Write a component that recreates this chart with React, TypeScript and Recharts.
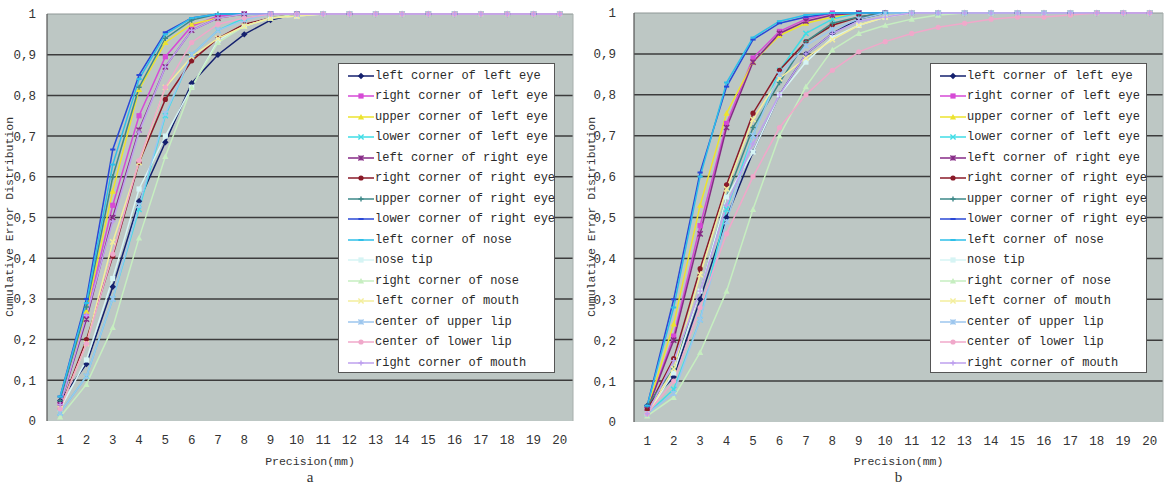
import React from 'react';
import { LineChart, Line, XAxis, YAxis, CartesianGrid, Legend, ReferenceLine } from 'recharts';

// precision thresholds in mm
const precision = [1, 2, 3, 4, 5, 6, 7, 8, 9, 10, 11, 12, 13, 14, 15, 16, 17, 18, 19, 20];
const xBoundaries = [1.5, 2.5, 3.5, 4.5, 5.5, 6.5, 7.5, 8.5, 9.5, 10.5, 11.5, 12.5, 13.5, 14.5, 15.5, 16.5, 17.5, 18.5, 19.5];
const yTicks = [0, 0.1, 0.2, 0.3, 0.4, 0.5, 0.6, 0.7, 0.8, 0.9, 1];
const gridValues = [0.1, 0.2, 0.3, 0.4, 0.5, 0.6, 0.7, 0.8, 0.9];

const landmarks = [
  'left corner of left eye',
  'right corner of left eye',
  'upper corner of left eye',
  'lower corner of left eye',
  'left corner of right eye',
  'right corner of right eye',
  'upper corner of right eye',
  'lower corner of right eye',
  'left corner of nose',
  'nose tip',
  'right corner of nose',
  'left corner of mouth',
  'center of upper lip',
  'center of lower lip',
  'right corner of mouth',
];

// excel-ish default series palette
const colors = [
  '#14206e', '#d64ad6', '#ece32e', '#3fdde6', '#862a86',
  '#8a1a28', '#3d8888', '#2a48d6', '#2ebfe8', '#d6f4f4',
  '#c6eec0', '#f3ee9c', '#9cc6ee', '#f0a8ca', '#bea0ee',
];
const markers = [
  'diamond', 'square', 'triangle', 'x', 'star', 'circle', 'plus', 'dash',
  'dash', 'square', 'triangle', 'x', 'star', 'circle', 'plus',
];

// panel a
const aLeftCornerLeftEye = [0.05, 0.14, 0.33, 0.54, 0.685, 0.83, 0.90, 0.95, 0.985, 1, 1, 1, 1, 1, 1, 1, 1, 1, 1, 1];
const aRightCornerLeftEye = [0.04, 0.26, 0.53, 0.75, 0.895, 0.97, 0.995, 1, 1, 1, 1, 1, 1, 1, 1, 1, 1, 1, 1, 1];
const aUpperCornerLeftEye = [0.04, 0.27, 0.565, 0.815, 0.93, 0.975, 0.99, 1, 1, 1, 1, 1, 1, 1, 1, 1, 1, 1, 1, 1];
const aLowerCornerLeftEye = [0.02, 0.11, 0.30, 0.52, 0.75, 0.90, 0.96, 0.99, 1, 1, 1, 1, 1, 1, 1, 1, 1, 1, 1, 1];
const aLeftCornerRightEye = [0.04, 0.25, 0.50, 0.715, 0.87, 0.96, 0.99, 1, 1, 1, 1, 1, 1, 1, 1, 1, 1, 1, 1, 1];
const aRightCornerRightEye = [0.03, 0.20, 0.405, 0.635, 0.79, 0.885, 0.94, 0.975, 0.99, 1, 1, 1, 1, 1, 1, 1, 1, 1, 1, 1];
const aUpperCornerRightEye = [0.05, 0.28, 0.60, 0.82, 0.94, 0.985, 1, 1, 1, 1, 1, 1, 1, 1, 1, 1, 1, 1, 1, 1];
const aLowerCornerRightEye = [0.06, 0.30, 0.667, 0.85, 0.955, 0.99, 1, 1, 1, 1, 1, 1, 1, 1, 1, 1, 1, 1, 1, 1];
const aLeftCornerNose = [0.06, 0.29, 0.63, 0.84, 0.95, 0.99, 1, 1, 1, 1, 1, 1, 1, 1, 1, 1, 1, 1, 1, 1];
const aNoseTip = [0.03, 0.15, 0.35, 0.57, 0.70, 0.82, 0.935, 0.97, 0.99, 0.995, 1, 1, 1, 1, 1, 1, 1, 1, 1, 1];
const aRightCornerNose = [0.01, 0.09, 0.23, 0.45, 0.65, 0.82, 0.93, 0.97, 0.99, 1, 1, 1, 1, 1, 1, 1, 1, 1, 1, 1];
const aLeftCornerMouth = [0.03, 0.19, 0.44, 0.635, 0.82, 0.895, 0.94, 0.97, 0.99, 0.995, 1, 1, 1, 1, 1, 1, 1, 1, 1, 1];
const aCenterUpperLip = [0.02, 0.11, 0.30, 0.53, 0.755, 0.90, 0.96, 0.985, 1, 1, 1, 1, 1, 1, 1, 1, 1, 1, 1, 1];
const aCenterLowerLip = [0.03, 0.19, 0.41, 0.64, 0.82, 0.93, 0.975, 0.99, 1, 1, 1, 1, 1, 1, 1, 1, 1, 1, 1, 1];
const aRightCornerMouth = [0.04, 0.26, 0.49, 0.71, 0.87, 0.96, 0.99, 1, 1, 1, 1, 1, 1, 1, 1, 1, 1, 1, 1, 1];

// panel b
const bLeftCornerLeftEye = [0.04, 0.11, 0.30, 0.50, 0.66, 0.80, 0.90, 0.95, 0.985, 1, 1, 1, 1, 1, 1, 1, 1, 1, 1, 1];
const bRightCornerLeftEye = [0.03, 0.21, 0.48, 0.73, 0.89, 0.955, 0.985, 1, 1, 1, 1, 1, 1, 1, 1, 1, 1, 1, 1, 1];
const bUpperCornerLeftEye = [0.03, 0.24, 0.53, 0.755, 0.88, 0.945, 0.975, 0.99, 1, 1, 1, 1, 1, 1, 1, 1, 1, 1, 1, 1];
const bLowerCornerLeftEye = [0.02, 0.08, 0.25, 0.52, 0.70, 0.86, 0.95, 0.985, 1, 1, 1, 1, 1, 1, 1, 1, 1, 1, 1, 1];
const bLeftCornerRightEye = [0.03, 0.20, 0.46, 0.72, 0.88, 0.95, 0.98, 0.995, 1, 1, 1, 1, 1, 1, 1, 1, 1, 1, 1, 1];
const bRightCornerRightEye = [0.03, 0.155, 0.375, 0.58, 0.755, 0.86, 0.93, 0.97, 0.99, 1, 1, 1, 1, 1, 1, 1, 1, 1, 1, 1];
const bUpperCornerRightEye = [0.04, 0.13, 0.32, 0.55, 0.72, 0.83, 0.93, 0.975, 0.99, 1, 1, 1, 1, 1, 1, 1, 1, 1, 1, 1];
const bLowerCornerRightEye = [0.04, 0.30, 0.61, 0.82, 0.935, 0.975, 0.99, 1, 1, 1, 1, 1, 1, 1, 1, 1, 1, 1, 1, 1];
const bLeftCornerNose = [0.04, 0.28, 0.60, 0.83, 0.94, 0.98, 0.995, 1, 1, 1, 1, 1, 1, 1, 1, 1, 1, 1, 1, 1];
const bNoseTip = [0.02, 0.12, 0.32, 0.55, 0.66, 0.80, 0.88, 0.94, 0.97, 0.99, 1, 1, 1, 1, 1, 1, 1, 1, 1, 1];
const bRightCornerNose = [0.015, 0.06, 0.17, 0.32, 0.52, 0.70, 0.82, 0.91, 0.95, 0.97, 0.985, 0.995, 1, 1, 1, 1, 1, 1, 1, 1];
const bLeftCornerMouth = [0.02, 0.13, 0.36, 0.57, 0.74, 0.84, 0.89, 0.935, 0.97, 0.99, 1, 1, 1, 1, 1, 1, 1, 1, 1, 1];
const bCenterUpperLip = [0.02, 0.07, 0.25, 0.49, 0.70, 0.85, 0.92, 0.96, 0.985, 1, 1, 1, 1, 1, 1, 1, 1, 1, 1, 1];
const bCenterLowerLip = [0.02, 0.10, 0.28, 0.46, 0.60, 0.72, 0.80, 0.86, 0.905, 0.93, 0.95, 0.965, 0.975, 0.985, 0.99, 0.99, 0.995, 1, 1, 1];
const bRightCornerMouth = [0.02, 0.15, 0.32, 0.53, 0.68, 0.80, 0.90, 0.95, 0.98, 0.99, 1, 1, 1, 1, 1, 1, 1, 1, 1, 1];

const panelA = [
  aLeftCornerLeftEye, aRightCornerLeftEye, aUpperCornerLeftEye, aLowerCornerLeftEye,
  aLeftCornerRightEye, aRightCornerRightEye, aUpperCornerRightEye, aLowerCornerRightEye,
  aLeftCornerNose, aNoseTip, aRightCornerNose, aLeftCornerMouth,
  aCenterUpperLip, aCenterLowerLip, aRightCornerMouth,
];
const panelB = [
  bLeftCornerLeftEye, bRightCornerLeftEye, bUpperCornerLeftEye, bLowerCornerLeftEye,
  bLeftCornerRightEye, bRightCornerRightEye, bUpperCornerRightEye, bLowerCornerRightEye,
  bLeftCornerNose, bNoseTip, bRightCornerNose, bLeftCornerMouth,
  bCenterUpperLip, bCenterLowerLip, bRightCornerMouth,
];

const FONT = '"Liberation Mono", monospace';

const toRows = (series: number[][]) =>
  precision.map((p, i) => {
    const row: Record<string, number> = { p };
    series.forEach((s, k) => { row[`s${k}`] = s[i]; });
    return row;
  });

const fmtY = (v: number) => (v === 0 || v === 1 ? String(v) : v.toFixed(1).replace('.', ','));

function Marker({ shape, cx, cy, color }: { shape: string; cx: number; cy: number; color: string }) {
  const r = 2.6;
  switch (shape) {
    case 'diamond':
      return <path d={`M${cx},${cy - r - 0.6}L${cx + r + 0.6},${cy}L${cx},${cy + r + 0.6}L${cx - r - 0.6},${cy}Z`} fill={color} />;
    case 'square':
      return <rect x={cx - r} y={cy - r} width={r * 2} height={r * 2} fill={color} />;
    case 'triangle':
      return <path d={`M${cx},${cy - r - 0.5}L${cx + r + 0.5},${cy + r}L${cx - r - 0.5},${cy + r}Z`} fill={color} />;
    case 'circle':
      return <circle cx={cx} cy={cy} r={r} fill={color} />;
    case 'x':
      return <path d={`M${cx - r},${cy - r}L${cx + r},${cy + r}M${cx + r},${cy - r}L${cx - r},${cy + r}`} stroke={color} strokeWidth={1.4} />;
    case 'star':
      return <path d={`M${cx - r},${cy - r}L${cx + r},${cy + r}M${cx + r},${cy - r}L${cx - r},${cy + r}M${cx},${cy - r}L${cx},${cy + r}`} stroke={color} strokeWidth={1.4} />;
    case 'plus':
      return <path d={`M${cx - r},${cy}L${cx + r},${cy}M${cx},${cy - r}L${cx},${cy + r}`} stroke={color} strokeWidth={1.4} />;
    default:
      return <path d={`M${cx - r},${cy}L${cx + r},${cy}`} stroke={color} strokeWidth={2} />;
  }
}

// legend rows follow the series order, not the library's sorted payload
function LegendBox() {
  return (
    <div style={{
      width: 217, height: 310, boxSizing: 'border-box', border: '1px solid #555', background: '#fff',
      paddingTop: 1.5, paddingLeft: 9, fontFamily: FONT, fontSize: 12, color: '#2a2a2a',
    }}>
      {landmarks.map((name, k) => (
        <div key={k} style={{ height: 20.5, display: 'flex', alignItems: 'center', whiteSpace: 'nowrap' }}>
          <svg width={26} height={10} style={{ flex: 'none' }}>
            <line x1={0} y1={5} x2={26} y2={5} stroke={colors[k]} strokeWidth={1.5} />
            <Marker shape={markers[k]} cx={13} cy={5} color={colors[k]} />
          </svg>
          <span style={{ marginLeft: 1 }}>{name}</span>
        </div>
      ))}
    </div>
  );
}

type PanelProps = {
  series: number[][];
  left: number;
  width: number;
  plotLeft: number;
  plotRight: number;
  plotTop: number;
  plotBottom: number;
  labelGap: number;
  legendLeft: number;
  titleX: number;
  caption: string;
};

function Panel({ series, left, width, plotLeft, plotRight, plotTop, plotBottom, labelGap, legendLeft, titleX, caption }: PanelProps) {
  const data = toRows(series);
  const yAxisWidth = 40;
  const xAxisHeight = 25;
  const height = 492;
  const centre = (plotLeft + plotRight) / 2 - left;
  return (
    <div style={{ position: 'absolute', left, top: 0, width, height }}>
      <LineChart
        width={width}
        height={height}
        data={data}
        margin={{ top: plotTop, right: left + width - plotRight, left: plotLeft - left - yAxisWidth, bottom: height - plotBottom - xAxisHeight }}
      >
        <CartesianGrid vertical={false} horizontalValues={gridValues} stroke="#3c3c3c" strokeWidth={1.5} fill="#bdc7c4" fillOpacity={1} />
        <XAxis xAxisId="marks" dataKey="p" type="number" domain={[0.5, 20.5]} ticks={xBoundaries} height={0}
          tick={false} tickSize={4} mirror axisLine={{ stroke: '#5a4444', strokeWidth: 1.5 }} tickLine={{ stroke: '#5a4444' }} />
        <XAxis xAxisId="p" dataKey="p" type="number" domain={[0.5, 20.5]} ticks={precision} height={xAxisHeight}
          interval={0} axisLine={false} tickLine={false} tickSize={0} tickMargin={14}
          tick={{ fill: '#333', fontSize: 12.5, fontFamily: FONT }} />
        <YAxis type="number" domain={[0, 1]} ticks={yTicks} width={yAxisWidth} tickFormatter={fmtY}
          axisLine={{ stroke: '#555', strokeWidth: 1.2 }} tickLine={false} tickSize={0} tickMargin={labelGap}
          tick={{ fill: '#333', fontSize: 12.5, fontFamily: FONT }} />
        <ReferenceLine xAxisId="p" y={1} stroke="#8e9795" strokeWidth={1} />
        <ReferenceLine xAxisId="p" x={20.5} stroke="#a6aeac" strokeWidth={1} />
        <Legend layout="vertical" align="center" verticalAlign="middle" content={<LegendBox />}
          wrapperStyle={{ left: legendLeft - left, top: 63, width: 217, height: 310 }} />
        {series.map((_, k) => (
          <Line
            key={k}
            xAxisId="p"
            type="linear"
            dataKey={`s${k}`}
            name={landmarks[k]}
            stroke={colors[k]}
            strokeWidth={1.5}
            isAnimationActive={false}
            dot={(props: any) => (
              <Marker key={`${k}-${props.index}`} shape={markers[k]} cx={props.cx} cy={props.cy} color={colors[k]} />
            )}
            activeDot={false}
          />
        ))}
      </LineChart>
      <div style={{
        position: 'absolute', left: titleX - left - 130, top: 217 - 8, width: 260, textAlign: 'center',
        transform: 'rotate(-90deg)', fontFamily: FONT, fontSize: 11.5, color: '#333', lineHeight: '16px',
        whiteSpace: 'nowrap',
      }}>
        Cumulative Error Distribution
      </div>
      <div style={{
        position: 'absolute', left: centre - 100, top: 454, width: 200, textAlign: 'center',
        fontFamily: FONT, fontSize: 11.5, color: '#333', lineHeight: '16px', whiteSpace: 'nowrap',
      }}>
        Precision(mm)
      </div>
      <div style={{
        position: 'absolute', left: centre - 50, top: 469, width: 100, textAlign: 'center',
        fontFamily: '"Liberation Serif", serif', fontSize: 15, color: '#333', lineHeight: '16px',
      }}>
        {caption}
      </div>
    </div>
  );
}

export default function App() {
  return (
    <div style={{ position: 'absolute', left: 0, top: 0, width: 1167, height: 492, background: '#fff', overflow: 'hidden' }}>
      <Panel series={panelA} left={0} width={590} plotLeft={47} plotRight={573} plotTop={14} plotBottom={421}
        labelGap={11} legendLeft={338} titleX={10} caption="a" />
      <Panel series={panelB} left={580} width={587} plotLeft={634} plotRight={1163} plotTop={13} plotBottom={422}
        labelGap={18} legendLeft={930} titleX={592} caption="b" />
    </div>
  );
}
